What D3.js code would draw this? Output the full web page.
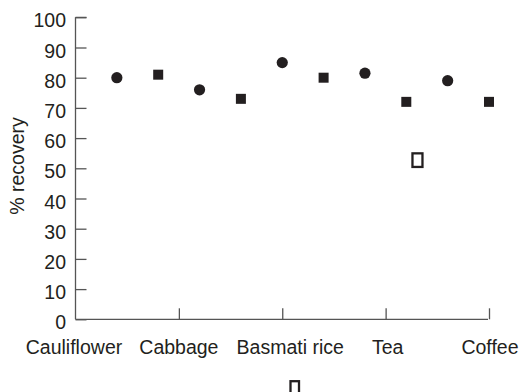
<!DOCTYPE html>
<html>
<head>
<meta charset="utf-8">
<script src="https://cdn.jsdelivr.net/npm/d3@7"></script>
<style>
  html, body { margin: 0; padding: 0; background: #fff; }
  text { font-family: "Liberation Sans", Arial, Helvetica, sans-serif; fill: #231f20; }
</style>
</head>
<body>
<svg id="chart" width="524" height="392"></svg>
<script>
// ---- data ----
const categories = ["Cauliflower", "Cabbage", "Basmati rice", "Tea", "Coffee"];
const categoryTickPos = [0, 2.5, 5, 7.5, 10];
const circleValues = [80, 76, 85, 81.5, 79];
const squareValues = [81, 73, 80, 72, 72];
const openSquareCategory = ["Tea"];
const openSquareValues = [52.7];
const yTicks = [0, 10, 20, 30, 40, 50, 60, 70, 80, 90, 100];
const yTitle = "% recovery";

// ---- layout ----
const svg = d3.select("#chart");
const ink = "#231f20";
const axisColor = "#555";

const x = d3.scaleLinear().domain([0, 10]).range([75.5, 489]);
const y = d3.scaleLinear().domain([0, 100]).range([319.3, 17.3]);

// Y axis
const yAxis = d3.axisRight(y).tickValues(yTicks).tickSize(11).tickFormat("");
const gy = svg.append("g").attr("transform", `translate(${x(0)},0)`).call(yAxis);
gy.select(".domain").attr("stroke", axisColor).attr("stroke-width", 1.3).attr("d", `M0,${y(100)}H11M0,${y(100)}V${y(0)}`);
gy.selectAll(".tick line").attr("stroke", axisColor).attr("stroke-width", 1.3);

svg.append("g").selectAll("text").data(yTicks).join("text")
  .attr("x", 66).attr("y", d => y(d) + 10)
  .attr("text-anchor", "end").attr("font-size", 19.5)
  .text(d => d);

// X axis
const xAxis = d3.axisTop(x).tickValues(categoryTickPos.slice(1)).tickSize(11).tickFormat("");
const gx = svg.append("g").attr("transform", `translate(0,${y(0)})`).call(xAxis);
gx.select(".domain").attr("stroke", axisColor).attr("stroke-width", 1.3).attr("d", `M${x(0)},0H${x(10) - 1}`);
gx.selectAll(".tick line").attr("stroke", axisColor).attr("stroke-width", 1.3);

const labelDx = [-1.5, 0, 8, 2, 1];
svg.append("g").selectAll("text").data(categories).join("text")
  .attr("x", (d, i) => x(categoryTickPos[i]) + labelDx[i])
  .attr("y", 354)
  .attr("text-anchor", "middle").attr("font-size", 19.5)
  .text(d => d);

// Y title
svg.append("text")
  .attr("transform", `translate(24,166) rotate(-90)`)
  .attr("text-anchor", "middle").attr("font-size", 19.5)
  .text(yTitle);

// Circles
svg.append("g").selectAll("circle").data(circleValues).join("circle")
  .attr("cx", (d, i) => x(2 * i + 1))
  .attr("cy", d => y(d))
  .attr("r", 5.6)
  .attr("fill", ink);

// Filled squares
const sq = 10;
svg.append("g").selectAll("rect").data(squareValues).join("rect")
  .attr("x", (d, i) => x(2 * i + 2) - sq / 2)
  .attr("y", d => y(d) - sq / 2)
  .attr("width", sq).attr("height", sq)
  .attr("fill", ink);

// Open squares
const openW = 10, openH = 13.6;
svg.append("g").selectAll("rect").data(openSquareValues).join("rect")
  .attr("x", (d, i) => x(2 * categories.indexOf(openSquareCategory[i]) + 2.27) - openW / 2)
  .attr("y", d => y(d) - openH / 2)
  .attr("width", openW).attr("height", openH)
  .attr("fill", "none").attr("stroke", ink).attr("stroke-width", 2.3);

// Legend marker (clipped at bottom)
svg.append("rect")
  .attr("x", 290.5).attr("y", 381.2)
  .attr("width", 8.5).attr("height", 14)
  .attr("fill", "none").attr("stroke", ink).attr("stroke-width", 2.3);
</script>
</body>
</html>
